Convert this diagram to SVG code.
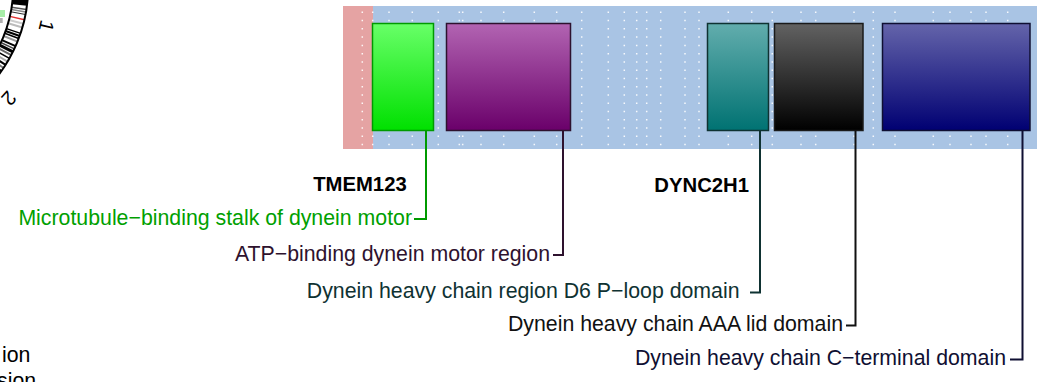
<svg xmlns="http://www.w3.org/2000/svg" width="1045" height="382" viewBox="0 0 1045 382">
<style>
.lbl{font-family:"Liberation Sans",Arial,sans-serif;font-size:21.3px;text-anchor:end}
.gene{font-family:"Liberation Sans",Arial,sans-serif;font-size:20.3px;font-weight:bold;text-anchor:end;fill:#000}
.chr{font-family:"Liberation Sans",Arial,sans-serif;font-size:20px;text-anchor:middle;dominant-baseline:central;fill:#000}
.dot{stroke:#ffffff;stroke-opacity:0.9;stroke-width:1.5;stroke-dasharray:1.5 6.77}
.box{stroke-width:1.5}
.conn{fill:none;stroke-width:2}
.band{stroke-width:2}
</style>
<defs>
<linearGradient id="gGreen" x1="0" y1="0" x2="0" y2="1"><stop offset="0" stop-color="#68ff68"/><stop offset="1" stop-color="#00e000"/></linearGradient>
<linearGradient id="gPurple" x1="0" y1="0" x2="0" y2="1"><stop offset="0" stop-color="#b264b2"/><stop offset="1" stop-color="#6a006a"/></linearGradient>
<linearGradient id="gTeal" x1="0" y1="0" x2="0" y2="1"><stop offset="0" stop-color="#62adad"/><stop offset="1" stop-color="#007272"/></linearGradient>
<linearGradient id="gBlack" x1="0" y1="0" x2="0" y2="1"><stop offset="0" stop-color="#626262"/><stop offset="1" stop-color="#000000"/></linearGradient>
<linearGradient id="gNavy" x1="0" y1="0" x2="0" y2="1"><stop offset="0" stop-color="#6464aa"/><stop offset="1" stop-color="#000072"/></linearGradient>
</defs>

<!-- partial circular ideogram at top-left -->
<g id="ideogram">
  <path d="M0,10 L5,10 L5,17 L0,17 Z" fill="#a8eea8"/>
  <path d="M0,18 L2.7,18 L2.7,23 L0,23 Z" fill="#b0b0b0"/>
  <g transform="translate(-115,-12)">
    <path d="M140.8,-24.8 A143,143 0 0 1 82.0,117.1 L73.4,104.9 A128,128 0 0 0 126.1,-22.2 Z" fill="#ffffff" stroke="none"/>
    <g>
      <line x1="128" y1="0" x2="143" y2="0" transform="rotate(5.1)" stroke="#000" stroke-width="10"/>
      <line x1="128" y1="0" x2="143" y2="0" transform="rotate(8.6)" stroke="#555" stroke-width="1.5"/>
      <line x1="128" y1="0" x2="143" y2="0" transform="rotate(9.7)" stroke="#888" stroke-width="1.5"/>
      <line x1="128" y1="0" x2="143" y2="0" transform="rotate(10.7)" stroke="#333" stroke-width="1"/>
      <line x1="128" y1="0" x2="143" y2="0" transform="rotate(12.8)" stroke="#e03030" stroke-width="1.5"/>
      <line x1="128" y1="0" x2="143" y2="0" transform="rotate(14.5)" stroke="#cccccc" stroke-width="2"/>
      <line x1="128" y1="0" x2="143" y2="0" transform="rotate(16.0)" stroke="#bbbbbb" stroke-width="2"/>
      <line x1="128" y1="0" x2="143" y2="0" transform="rotate(18.5)" stroke="#000" stroke-width="1.5"/>
      <line x1="128" y1="0" x2="143" y2="0" transform="rotate(19.6)" stroke="#000" stroke-width="2"/>
      <line x1="128" y1="0" x2="143" y2="0" transform="rotate(20.7)" stroke="#000" stroke-width="1.5"/>
      <line x1="128" y1="0" x2="143" y2="0" transform="rotate(22.0)" stroke="#999" stroke-width="2"/>
      <line x1="128" y1="0" x2="143" y2="0" transform="rotate(24.0)" stroke="#000" stroke-width="2"/>
      <line x1="128" y1="0" x2="143" y2="0" transform="rotate(25.2)" stroke="#444" stroke-width="1.5"/>
      <line x1="128" y1="0" x2="143" y2="0" transform="rotate(26.5)" stroke="#000" stroke-width="3"/>
      <line x1="128" y1="0" x2="143" y2="0" transform="rotate(28.0)" stroke="#666" stroke-width="2"/>
      <line x1="128" y1="0" x2="143" y2="0" transform="rotate(29.5)" stroke="#000" stroke-width="1.5"/>
      <line x1="128" y1="0" x2="143" y2="0" transform="rotate(31.0)" stroke="#aaa" stroke-width="2"/>
      <line x1="128" y1="0" x2="143" y2="0" transform="rotate(32.5)" stroke="#000" stroke-width="2"/>
      <line x1="128" y1="0" x2="143" y2="0" transform="rotate(34.0)" stroke="#777" stroke-width="2"/>
      <line x1="128" y1="0" x2="143" y2="0" transform="rotate(35.5)" stroke="#000" stroke-width="2"/>
      <line x1="128" y1="0" x2="143" y2="0" transform="rotate(37.0)" stroke="#999" stroke-width="2"/>
    </g>
    <path d="M140.8,-24.8 A143,143 0 0 1 82.0,117.1 M73.4,104.9 A128,128 0 0 0 126.1,-22.2" fill="none" stroke="#000" class="band"/>
    <text class="chr" transform="rotate(13.2) translate(166,0) rotate(90)">1</text>
    <text class="chr" transform="rotate(41.6) translate(166,0) rotate(90)">2</text>
  </g>
</g>

<!-- legend fragments -->
<g id="legend">
  <text class="lbl" x="2" y="362" style="text-anchor:start" fill="#000">ion</text>
  <text class="lbl" x="-3" y="388" style="text-anchor:start" fill="#000">sion</text>
</g>

<!-- track background -->
<g id="track">
  <rect x="373" y="6" width="664" height="143" fill="#a9c4e4"/>
  <rect x="343" y="6" width="30" height="143" fill="#e5a3a3"/>
  <g id="dots">
    <line class="dot" x1="362.3" y1="11.55" x2="362.3" y2="146"/>
    <line class="dot" x1="372.7" y1="11.55" x2="372.7" y2="146"/>
    <line class="dot" x1="389" y1="11.55" x2="389" y2="146"/>
    <line class="dot" x1="412.3" y1="11.55" x2="412.3" y2="146"/>
    <line class="dot" x1="438.3" y1="11.55" x2="438.3" y2="146"/>
    <line class="dot" x1="459.3" y1="11.55" x2="459.3" y2="146"/>
    <line class="dot" x1="462.7" y1="11.55" x2="462.7" y2="146"/>
    <line class="dot" x1="481" y1="11.55" x2="481" y2="146"/>
    <line class="dot" x1="503.7" y1="11.55" x2="503.7" y2="146"/>
    <line class="dot" x1="534.3" y1="11.55" x2="534.3" y2="146"/>
    <line class="dot" x1="556.7" y1="11.55" x2="556.7" y2="146"/>
    <line class="dot" x1="581.7" y1="11.55" x2="581.7" y2="146"/>
    <line class="dot" x1="608.3" y1="11.55" x2="608.3" y2="146"/>
    <line class="dot" x1="624.3" y1="11.55" x2="624.3" y2="146"/>
    <line class="dot" x1="636.7" y1="11.55" x2="636.7" y2="146"/>
    <line class="dot" x1="646.7" y1="11.55" x2="646.7" y2="146"/>
    <line class="dot" x1="660.7" y1="11.55" x2="660.7" y2="146"/>
    <line class="dot" x1="685" y1="11.55" x2="685" y2="146"/>
    <line class="dot" x1="699" y1="11.55" x2="699" y2="146"/>
    <line class="dot" x1="728.3" y1="11.55" x2="728.3" y2="146"/>
    <line class="dot" x1="751.7" y1="11.55" x2="751.7" y2="146"/>
    <line class="dot" x1="772.3" y1="11.55" x2="772.3" y2="146"/>
    <line class="dot" x1="801" y1="11.55" x2="801" y2="146"/>
    <line class="dot" x1="815.7" y1="11.55" x2="815.7" y2="146"/>
    <line class="dot" x1="854" y1="11.55" x2="854" y2="146"/>
    <line class="dot" x1="873.3" y1="11.55" x2="873.3" y2="146"/>
    <line class="dot" x1="895" y1="11.55" x2="895" y2="146"/>
    <line class="dot" x1="933.3" y1="11.55" x2="933.3" y2="146"/>
    <line class="dot" x1="950" y1="11.55" x2="950" y2="146"/>
    <line class="dot" x1="971" y1="11.55" x2="971" y2="146"/>
    <line class="dot" x1="986" y1="11.55" x2="986" y2="146"/>
    <line class="dot" x1="1007.7" y1="11.55" x2="1007.7" y2="146"/>
  </g>
</g>

<!-- domain boxes -->
<g id="stalk"><rect class="box" x="372.5" y="23.5" width="61" height="107" fill="url(#gGreen)" stroke="#009a00"/></g>
<g id="atp"><rect class="box" x="446.5" y="23.5" width="124" height="107" fill="url(#gPurple)" stroke="#2e122e"/></g>
<g id="ploop"><rect class="box" x="707.5" y="23.5" width="61" height="107" fill="url(#gTeal)" stroke="#0f3232"/></g>
<g id="aaa"><rect class="box" x="774.5" y="23.5" width="88.5" height="107" fill="url(#gBlack)" stroke="#1a1a1a"/></g>
<g id="cterm"><rect class="box" x="882.5" y="23.5" width="147.5" height="107" fill="url(#gNavy)" stroke="#0f0f32"/></g>

<!-- connectors -->
<g id="connectors">
  <polyline class="conn" points="426,130.5 426,219 414,219" stroke="#009a00"/>
  <polyline class="conn" points="563,130.5 563,255 553,255" stroke="#2e122e"/>
  <polyline class="conn" points="760,130.5 760,292.5 750,292.5" stroke="#0f3232"/>
  <polyline class="conn" points="855.5,130.5 855.5,325.5 846,325.5" stroke="#111111"/>
  <polyline class="conn" points="1022.5,130.5 1022.5,359.5 1010,359.5" stroke="#0f0f32"/>
</g>

<!-- gene labels -->
<g id="genes">
  <text class="gene" x="406.7" y="191">TMEM123</text>
  <text class="gene" x="749" y="192">DYNC2H1</text>
</g>

<!-- domain labels -->
<g id="labels">
  <text class="lbl" x="412" y="225" fill="#00a000">Microtubule−binding stalk of dynein motor</text>
  <text class="lbl" x="550" y="260.5" fill="#2e122e">ATP−binding dynein motor region</text>
  <text class="lbl" x="739.5" y="298" fill="#0f3232">Dynein heavy chain region D6 P−loop domain</text>
  <text class="lbl" x="843" y="331" fill="#111111">Dynein heavy chain AAA lid domain</text>
  <text class="lbl" x="1006" y="365" fill="#0f0f32">Dynein heavy chain C−terminal domain</text>
</g>
</svg>
